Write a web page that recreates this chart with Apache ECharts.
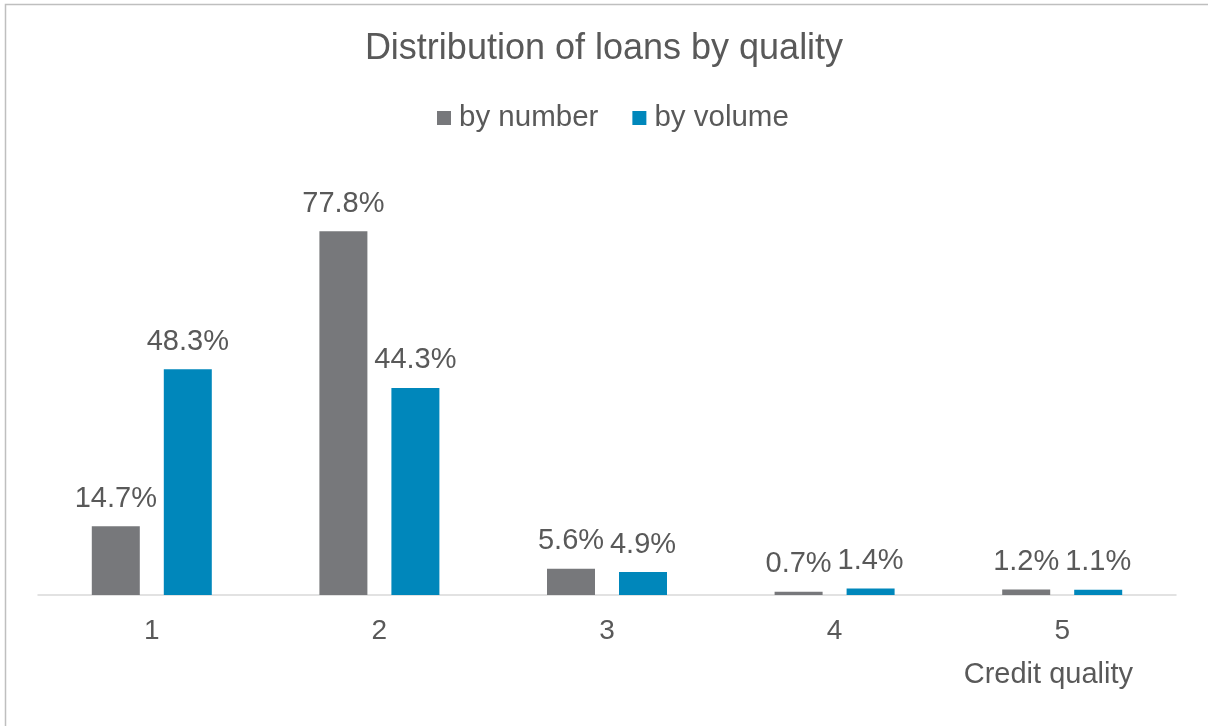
<!DOCTYPE html>
<html>
<head>
<meta charset="utf-8">
<script src="https://cdn.jsdelivr.net/npm/echarts@6/dist/echarts.min.js"></script>
<style>
  html, body { margin: 0; padding: 0; background: #fff; }
  #chart { width: 1208px; height: 726px; }
</style>
</head>
<body>
<div id="chart"></div>
<script>
// data
var categories = ['1', '2', '3', '4', '5'];
var byNumber = [14.7, 77.8, 5.6, 0.7, 1.2];
var byVolume = [48.3, 44.3, 4.9, 1.4, 1.1];
var seriesNames = ['by number', 'by volume'];

var textColor = '#595959';
var font = 'Liberation Sans, Arial, sans-serif';

var chart = echarts.init(document.getElementById('chart'));

function pct(p) {
    return p.value.toFixed(1) + '%';
}

var option = {
    backgroundColor: '#fff',
    animation: false,
    textStyle: { fontFamily: font, color: textColor },
    title: {
        text: 'Distribution of loans by quality',
        left: 'center',
        top: 26,
        textStyle: { fontFamily: font, fontSize: 36, fontWeight: 'normal', color: textColor }
    },
    legend: {
        data: seriesNames,
        top: 98,
        left: 432,
        icon: 'rect',
        itemWidth: 14,
        itemHeight: 14,
        itemGap: 34,
        textStyle: { fontFamily: font, fontSize: 29.5, color: textColor, padding: [0, 0, 0, 3] }
    },
    grid: {
        left: 38,
        right: 32,
        top: 221,
        bottom: 131
    },
    xAxis: {
        type: 'category',
        data: categories,
        name: 'Credit quality',
        nameLocation: 'end',
        nameGap: 0,
        nameTextStyle: {
            fontFamily: font, fontSize: 29, color: textColor,
            align: 'right', verticalAlign: 'top',
            padding: [65, 43, 0, 0]
        },
        axisLine: { lineStyle: { color: '#d9d9d9', width: 1.5 } },
        axisTick: { show: false },
        axisLabel: { fontFamily: font, fontSize: 28, color: textColor, margin: 22 }
    },
    yAxis: {
        type: 'value',
        min: 0,
        max: 80,
        show: false,
        splitLine: { show: false }
    },
    series: [
        {
            name: seriesNames[0],
            type: 'bar',
            data: byNumber,
            barWidth: 48,
            barGap: '50%',
            itemStyle: { color: '#77787b' },
            label: {
                show: true, position: 'top', distance: 13,
                formatter: pct,
                fontFamily: font, fontSize: 29, color: textColor
            }
        },
        {
            name: seriesNames[1],
            type: 'bar',
            data: byVolume,
            barWidth: 48,
            itemStyle: { color: '#0087bb' },
            label: {
                show: true, position: 'top', distance: 13,
                formatter: pct,
                fontFamily: font, fontSize: 29, color: textColor
            }
        }
    ],
    graphic: [
        {
            type: 'rect',
            shape: { x: 5.5, y: 4.5, width: 1300, height: 1000 },
            style: { fill: null, stroke: '#bfbfbf', lineWidth: 1.5 },
            silent: true
        }
    ]
};

chart.setOption(option);
</script>
</body>
</html>
